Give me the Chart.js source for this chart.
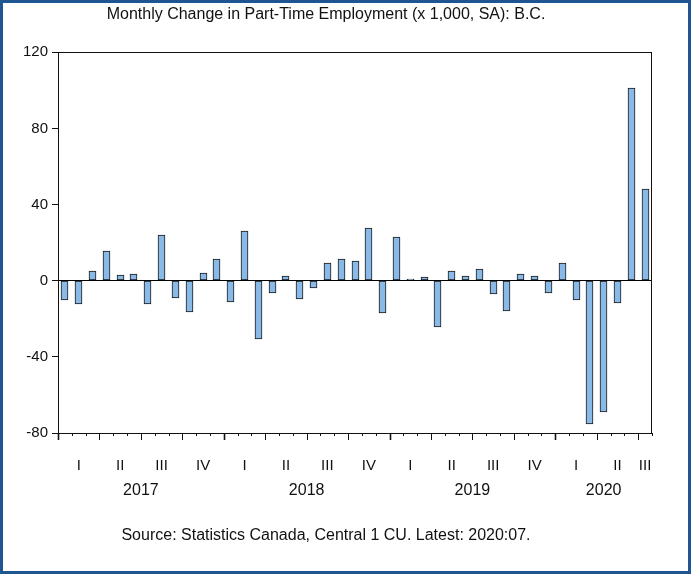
<!DOCTYPE html>
<html>
<head>
<meta charset="utf-8">
<title>Monthly Change in Part-Time Employment: B.C.</title>
<script src="https://cdn.jsdelivr.net/npm/chart.js@4.4.1/dist/chart.umd.min.js"></script>
<style>
  html, body { margin: 0; padding: 0; background: #fff; }
  #wrap { position: relative; width: 691px; height: 579px; }
  #frame {
    position: absolute; left: 0; top: 0;
    width: 691px; height: 574px;
    box-sizing: border-box;
    border: 3px solid #1f5591;
    pointer-events: none;
  }
  canvas { position: absolute; left: 0; top: 0; }
</style>
</head>
<body>
<div id="wrap">
  <canvas id="chart" width="691" height="579"></canvas>
  <div id="frame"></div>
</div>
<script>
// data (x 1,000, SA), 2017:01 .. 2020:07
const years = ["2017", "2018", "2019", "2020"];
const monthsPerYear = [12, 12, 12, 7];
const quarterLabels = ["I", "II", "III", "IV"];
const yTicks = [-80, -40, 0, 40, 80, 120];
const changes = [
  -10.0, -12.0, 5.3, 15.8, 2.8, 3.7, -12.5, 24.0, -9.1, -16.5, 3.9, 11.2,
  -11.1, 26.1, -30.5, -6.5, 2.5, -9.6, -3.9, 9.3, 11.4, 10.5, 27.7, -17.2,
  23.0, 0.9, 2.1, -24.2, 5.3, 2.5, 6.1, -6.8, -16.0, 3.3, 2.3, -6.3,
  9.3, -10.2, -75.4, -69.1, -11.9, 101.4, 48.2
];

const months = [];
years.forEach((y, i) => {
  for (let m = 1; m <= monthsPerYear[i]; m++) {
    months.push(y + ":" + String(m).padStart(2, "0"));
  }
});

const FONT = "'Liberation Sans', Arial, sans-serif";
const INK = "#111";

// snap bars to whole pixels so the 1px outlines stay crisp
const crispBars = {
  id: "crispBars",
  beforeDatasetsDraw(chart) {
    chart.getDatasetMeta(0).data.forEach(el => {
      el.x = Math.round(el.x - 0.5) + 0.5;
      el.y = Math.round(el.y);
      el.base = Math.round(el.base);
    });
  }
};

// month / quarter / year ticks and labels under the x axis
const xAxisMarks = {
  id: "xAxisMarks",
  afterDraw(chart) {
    const ctx = chart.ctx;
    const x = chart.scales.x;
    const area = chart.chartArea;
    const step = x.getPixelForValue(1) - x.getPixelForValue(0);

    ctx.save();
    ctx.strokeStyle = INK;
    ctx.lineWidth = 1;
    ctx.strokeRect(Math.round(area.left) + 0.5, Math.round(area.top) + 0.5,
      Math.round(area.right - area.left) - 1, Math.round(area.bottom - area.top));

    for (let i = 0; i <= months.length; i++) {
      const px = Math.round(x.getPixelForValue(i) - step / 2) + 0.5;
      let len = 3;
      if (i % 3 === 0) len = 7;
      ctx.lineWidth = i % 12 === 0 ? 1.6 : 1;
      ctx.beginPath();
      ctx.moveTo(px, area.bottom);
      ctx.lineTo(px, area.bottom + len);
      ctx.stroke();
    }

    ctx.fillStyle = INK;
    ctx.textAlign = "center";
    ctx.textBaseline = "middle";
    let start = 0;
    years.forEach((y, yi) => {
      const n = monthsPerYear[yi];
      ctx.font = "15px " + FONT;
      for (let q = 0; q < 4; q++) {
        const a = start + q * 3;
        const b = Math.min(a + 2, start + n - 1);
        if (a > start + n - 1) break;
        const cx = (x.getPixelForValue(a) + x.getPixelForValue(b)) / 2;
        ctx.fillText(quarterLabels[q], cx, area.bottom + 33);
      }
      const cy = (x.getPixelForValue(start) + x.getPixelForValue(start + n - 1)) / 2;
      ctx.font = "16px " + FONT;
      ctx.fillText(y, cy, area.bottom + 58);
      start += n;
    });
    ctx.restore();
  }
};

new Chart(document.getElementById("chart"), {
  type: "bar",
  data: {
    labels: months,
    datasets: [{
      label: "Part-time employment change",
      data: changes,
      backgroundColor: "#89b9e6",
      borderColor: "#1a1a1a",
      borderWidth: 1,
      borderSkipped: false,
      barThickness: 7,
      categoryPercentage: 1
    }]
  },
  options: {
    responsive: false,
    animation: false,
    layout: { padding: { left: 0, right: 39, top: 0, bottom: 0 } },
    plugins: {
      legend: { display: false },
      tooltip: { enabled: false },
      title: {
        display: true,
        text: "Monthly Change in Part-Time Employment (x 1,000, SA): B.C.",
        color: INK,
        font: { family: FONT, size: 16, weight: "normal" },
        padding: { top: 5, bottom: 28 }
      },
      subtitle: {
        display: true,
        position: "bottom",
        text: "Source: Statistics Canada, Central 1 CU. Latest: 2020:07.",
        color: INK,
        font: { family: FONT, size: 16, weight: "normal" },
        padding: { top: 0, bottom: 34 }
      }
    },
    scales: {
      x: {
        ticks: { display: false },
        grid: { display: false },
        border: { display: false },
        afterFit(scale) { scale.height = 92.8; }
      },
      y: {
        min: -80,
        max: 120,
        afterBuildTicks(scale) { scale.ticks = yTicks.map(v => ({ value: v })); },
        ticks: {
          color: INK,
          padding: 4,
          font: { family: FONT, size: 15 }
        },
        grid: {
          drawOnChartArea: true,
          color: c => (c.tick && c.tick.value === 0 ? "#000" : "rgba(0,0,0,0)"),
          tickColor: INK,
          tickLength: 6
        },
        border: { display: false },
        afterFit(scale) { scale.width = 58; }
      }
    }
  },
  plugins: [crispBars, xAxisMarks]
});
</script>
</body>
</html>
